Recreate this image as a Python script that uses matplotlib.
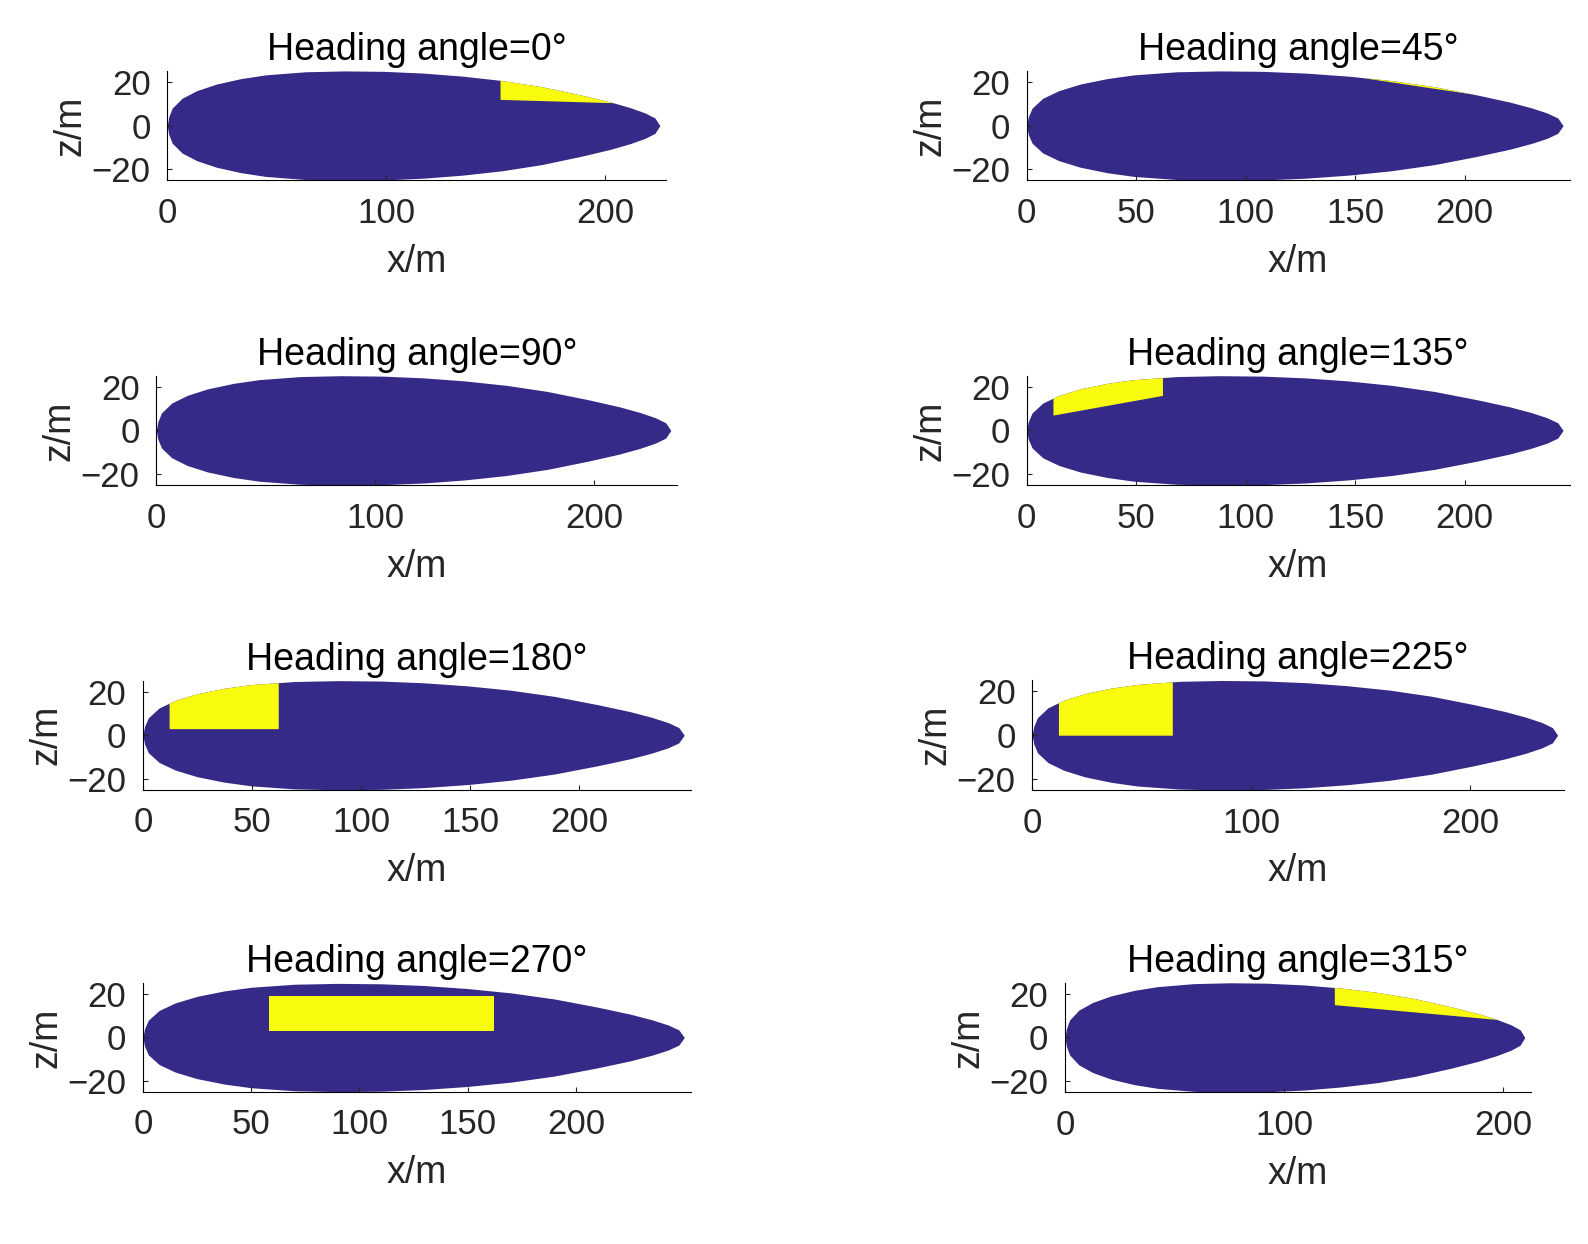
import numpy as np
import matplotlib.pyplot as plt

plt.rcParams['font.family'] = ['Liberation Sans', 'DejaVu Sans']

# hull profile: normalized station -> half depth (m)
stations = [0, 0.003, 0.01, 0.03, 0.06, 0.1, 0.15, 0.2, 0.28, 0.36, 0.44, 0.52,
            0.6, 0.68, 0.76, 0.84, 0.9, 0.94, 0.97, 0.99, 1.0]
half_depth = [0, 4, 8, 12.5, 16, 19, 21.5, 23.2, 24.6, 25, 24.8, 24,
              22.6, 20.6, 17.8, 14, 10.8, 8.2, 5.8, 3.5, 0]

headings = [0, 45, 90, 135, 180, 225, 270, 315]
lengths = [225, 245, 235, 245, 248, 240, 250, 210]
x_ticks = [[0, 100, 200], [0, 50, 100, 150, 200], [0, 100, 200], [0, 50, 100, 150, 200],
           [0, 50, 100, 150, 200], [0, 100, 200], [0, 50, 100, 150, 200], [0, 100, 200]]
# yellow region: x start, x end, lower z at start, lower z at end, upper cap (None = hull)
patch_x0 = [152, 153, None, 12, 12, 12, 58, 123]
patch_x1 = [220, 240, None, 62, 62, 64, 162, 200]
patch_z0 = [12, 22, None, 7, 3, 0, 3, 15]
patch_z1 = [10, 9, None, 16, 3, 0, 3, 8]
patch_cap = [None, None, None, None, None, None, 19, None]

navy = '#352a87'
yellow = '#f9fb0e'

fig = plt.figure(figsize=(15.88, 12.44), dpi=100)
row_bottoms = [0.855, 0.61, 0.365, 0.122]
col_lefts = [0.09, 0.645]

for i, hd in enumerate(headings):
    r, c = divmod(i, 2)
    ax = fig.add_axes([col_lefts[c], row_bottoms[r], 0.345, 0.088])
    L = lengths[i]
    xs = np.array(stations) * L
    hs = np.array(half_depth)
    ax.fill_between(xs, -hs, hs, color=navy, lw=0)
    if patch_x0[i] is not None:
        px = np.linspace(patch_x0[i], patch_x1[i], 100)
        top = np.interp(px, xs, hs)
        if patch_cap[i] is not None:
            top = np.minimum(top, patch_cap[i])
        low = np.linspace(patch_z0[i], patch_z1[i], 100)
        ax.fill_between(px, low, top, where=top > low, color=yellow, lw=0)
    ax.set_aspect('equal', anchor='C')
    ax.set_xlim(0, L + 3)
    ax.set_ylim(-25, 25)
    ax.set_xticks(x_ticks[i])
    ax.set_yticks([-20, 0, 20])
    for s in ['top', 'right']:
        ax.spines[s].set_visible(False)
    ax.tick_params(direction='in', labelsize=25, colors='#262626', pad=12)
    ax.set_xlabel('x/m', fontsize=27, color='#262626', labelpad=10)
    ax.set_ylabel('z/m', fontsize=27, color='#262626', labelpad=2)
    ax.set_title(f'Heading angle={hd}°', fontsize=27, pad=8)

fig.savefig('out.png', dpi=100)
